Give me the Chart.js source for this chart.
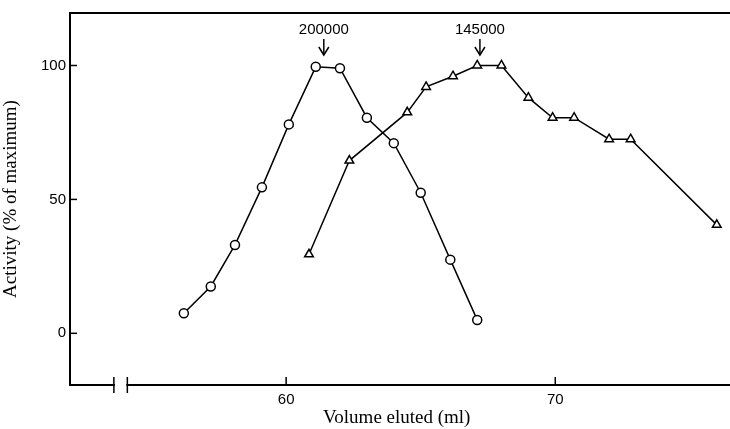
<!DOCTYPE html>
<html>
<head>
<script src="https://cdn.jsdelivr.net/npm/chart.js@4"></script>
<style>
  body { margin: 0; background: #fff; }
  #wrap { width: 730px; height: 429px; }
</style>
</head>
<body>
<div id="wrap"><canvas id="chart"></canvas></div>
<script>
// elution profiles
const circleX = [56.2, 57.2, 58.1, 59.1, 60.1, 61.1, 62.0, 63.0, 64.0, 65.0, 66.1, 67.1];
const circleY = [7.5, 17.5, 33, 54.5, 78, 99.5, 99, 80.5, 71, 52.5, 27.5, 5];
const triX = [60.85, 62.35, 64.5, 65.2, 66.2, 67.1, 68.0, 69.0, 69.9, 70.7, 72.0, 72.8, 76.0];
const triY = [29.5, 64.5, 82.5, 92, 96, 100, 100, 88, 80.5, 80.5, 72.5, 72.5, 40.5];
const xTicks = [60, 70];
const yTicks = [0, 50, 100];
const markers = [{ x: 61.4, label: '200000' }, { x: 67.2, label: '145000' }];

const toPts = (xs, ys) => xs.map((x, i) => ({ x: x, y: ys[i] }));

const extras = {
  id: 'extras',
  afterDraw(chart) {
    const c = chart.ctx, a = chart.chartArea;
    const xs = chart.scales.x, ys = chart.scales.y;
    c.save();
    c.strokeStyle = '#000';
    c.lineWidth = 2;
    // top frame line, run to the page edge
    c.beginPath(); c.moveTo(a.left, a.top); c.lineTo(chart.width, a.top); c.stroke();
    c.beginPath(); c.moveTo(a.right, a.bottom); c.lineTo(chart.width, a.bottom); c.stroke();
    // inward ticks
    c.lineWidth = 1.5;
    xTicks.forEach(v => {
      const px = xs.getPixelForValue(v);
      c.beginPath(); c.moveTo(px, a.bottom); c.lineTo(px, a.bottom - 8); c.stroke();
    });
    yTicks.forEach(v => {
      const py = ys.getPixelForValue(v);
      c.beginPath(); c.moveTo(a.left, py); c.lineTo(a.left + 7, py); c.stroke();
    });
    // axis break
    const b1 = xs.getPixelForValue(53.6), b2 = xs.getPixelForValue(54.1);
    c.fillStyle = '#fff';
    c.fillRect(b1 + 1, a.bottom - 3, b2 - b1 - 2, 6);
    [b1, b2].forEach(px => {
      c.beginPath(); c.moveTo(px, a.bottom - 8); c.lineTo(px, a.bottom + 8); c.stroke();
    });
    // molecular weight markers
    c.fillStyle = '#000';
    c.font = '15px "Liberation Sans", Arial, sans-serif';
    c.textAlign = 'center';
    markers.forEach(m => {
      const px = xs.getPixelForValue(m.x);
      c.fillText(m.label, px, 34);
      c.beginPath(); c.moveTo(px, 39); c.lineTo(px, 54); c.stroke();
      c.beginPath(); c.moveTo(px - 5, 47); c.lineTo(px, 55); c.lineTo(px + 5, 47); c.stroke();
    });
    c.restore();
  }
};

new Chart(document.getElementById('chart'), {
  type: 'scatter',
  data: {
    datasets: [
      {
        data: toPts(circleX, circleY),
        showLine: true,
        borderColor: '#000',
        borderWidth: 1.5,
        pointStyle: 'circle',
        pointRadius: 4.5,
        pointBorderWidth: 1.5,
        pointBackgroundColor: '#fff',
        pointBorderColor: '#000'
      },
      {
        data: toPts(triX, triY),
        showLine: true,
        borderColor: '#000',
        borderWidth: 1.5,
        pointStyle: 'triangle',
        pointRadius: 5,
        pointBorderWidth: 1.5,
        pointBackgroundColor: '#fff',
        pointBorderColor: '#000'
      }
    ]
  },
  options: {
    responsive: true,
    maintainAspectRatio: false,
    animation: false,
    layout: { padding: { top: 10, right: 0, left: 0, bottom: 0 } },
    plugins: { legend: { display: false }, tooltip: { enabled: false } },
    scales: {
      x: {
        type: 'linear',
        min: 51.97, max: 76.25,
        afterBuildTicks: s => { s.ticks = xTicks.map(v => ({ value: v })); },
        afterFit: s => { s.height = 44; },
        grid: { drawOnChartArea: false, drawTicks: false },
        border: { color: '#000', width: 2 },
        ticks: { color: '#000', padding: 6, font: { family: 'Liberation Sans', size: 15 } },
        title: { display: true, text: 'Volume eluted (ml)', color: '#000', padding: { top: 0, bottom: 0 },
                 font: { family: 'Liberation Serif', size: 19 } }
      },
      y: {
        min: -19.3, max: 119.6,
        afterBuildTicks: s => { s.ticks = yTicks.map(v => ({ value: v })); },
        afterFit: s => { s.width = 70; },
        grid: { drawOnChartArea: false, drawTicks: false },
        border: { color: '#000', width: 2 },
        ticks: { color: '#000', padding: 4, font: { family: 'Liberation Sans', size: 15 } },
        title: { display: true, text: 'Activity (% of maximum)', color: '#000', padding: { top: 0, bottom: 2 },
                 font: { family: 'Liberation Serif', size: 19 } }
      }
    }
  },
  plugins: [extras]
});
</script>
</body>
</html>
